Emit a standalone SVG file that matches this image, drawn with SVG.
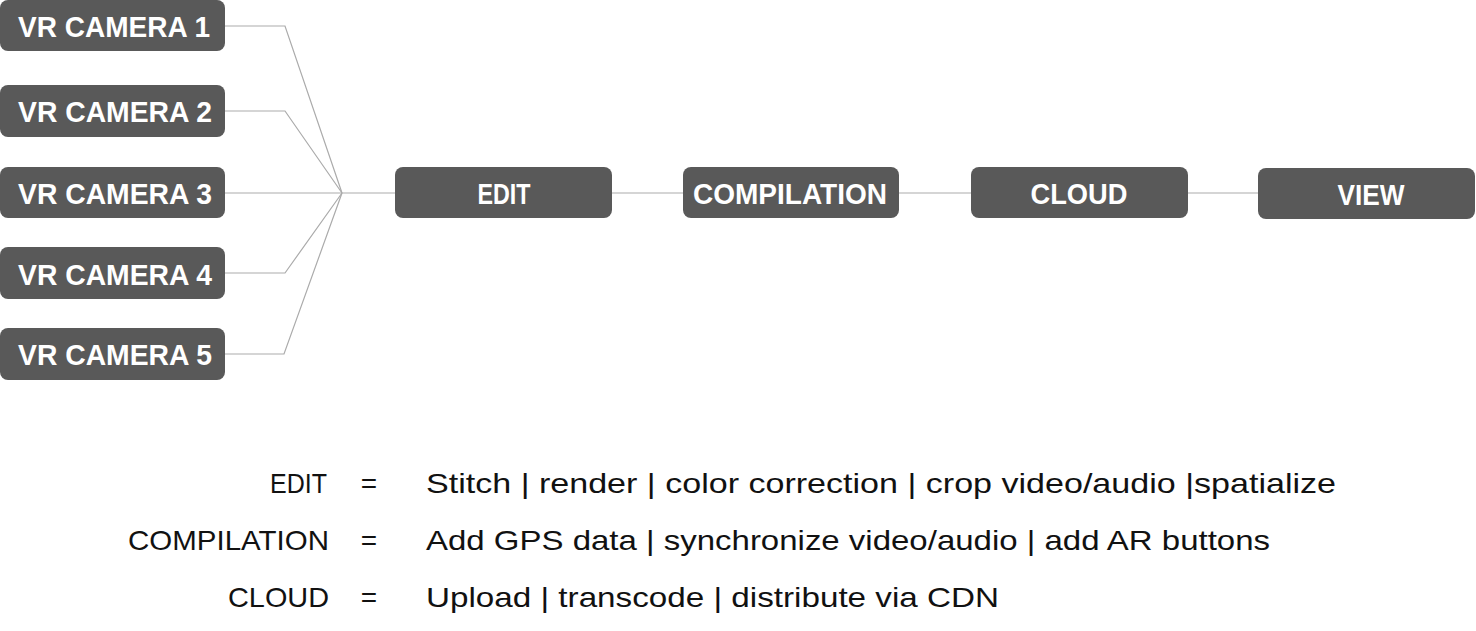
<svg xmlns="http://www.w3.org/2000/svg" width="1476" height="631" viewBox="0 0 1476 631">
<style>
.box{fill:#595959}
.bt{font-family:"Liberation Sans",Arial,sans-serif;font-weight:bold;font-size:29px;fill:#fff;text-anchor:middle}
.cn{fill:none;stroke:#ababab;stroke-width:1.2}
.lt{font-family:"Liberation Sans",Arial,sans-serif;font-size:28px;fill:#111}
</style>
<rect width="1476" height="631" fill="#fff"/>
<g id="connectors">
<polyline class="cn" points="225,26 285,26 342,193"/>
<polyline class="cn" points="225,111 285,111 342,193"/>
<polyline class="cn" points="225,193 395,193"/>
<polyline class="cn" points="225,273 285,273 342,193"/>
<polyline class="cn" points="225,354 284,354 342,193"/>
<line class="cn" x1="612" y1="193" x2="683" y2="193"/>
<line class="cn" x1="899" y1="193" x2="971" y2="193"/>
<line class="cn" x1="1188" y1="193" x2="1258" y2="193"/>
</g>
<g id="cam1"><rect class="box" x="0" y="0" width="225" height="51" rx="8"/><text class="bt" x="114" y="37" textLength="192" lengthAdjust="spacingAndGlyphs">VR CAMERA 1</text></g>
<g id="cam2"><rect class="box" x="0" y="85" width="225" height="52" rx="8"/><text class="bt" x="115" y="122" textLength="194" lengthAdjust="spacingAndGlyphs">VR CAMERA 2</text></g>
<g id="cam3"><rect class="box" x="0" y="167" width="225" height="51" rx="8"/><text class="bt" x="115" y="204" textLength="194" lengthAdjust="spacingAndGlyphs">VR CAMERA 3</text></g>
<g id="cam4"><rect class="box" x="0" y="247" width="225" height="52" rx="8"/><text class="bt" x="115" y="285" textLength="194" lengthAdjust="spacingAndGlyphs">VR CAMERA 4</text></g>
<g id="cam5"><rect class="box" x="0" y="328" width="225" height="52" rx="8"/><text class="bt" x="115" y="365" textLength="194" lengthAdjust="spacingAndGlyphs">VR CAMERA 5</text></g>
<g id="edit"><rect class="box" x="395" y="167" width="217" height="51" rx="8"/><text class="bt" x="504" y="204" textLength="53" lengthAdjust="spacingAndGlyphs">EDIT</text></g>
<g id="compilation"><rect class="box" x="683" y="167" width="216" height="51" rx="8"/><text class="bt" x="790" y="204" textLength="194" lengthAdjust="spacingAndGlyphs">COMPILATION</text></g>
<g id="cloud"><rect class="box" x="971" y="167" width="217" height="51" rx="8"/><text class="bt" x="1079" y="204" textLength="97" lengthAdjust="spacingAndGlyphs">CLOUD</text></g>
<g id="view"><rect class="box" x="1258" y="168" width="217" height="51" rx="8"/><text class="bt" x="1371" y="205" textLength="67" lengthAdjust="spacingAndGlyphs">VIEW</text></g>
<g id="legend">
<text class="lt" x="327" y="493" text-anchor="end" textLength="57" lengthAdjust="spacingAndGlyphs">EDIT</text>
<text class="lt" x="369" y="493" text-anchor="middle">=</text>
<text class="lt" x="426" y="493" textLength="910" lengthAdjust="spacingAndGlyphs">Stitch | render | color correction | crop video/audio |spatialize</text>
<text class="lt" x="329" y="550" text-anchor="end" textLength="201" lengthAdjust="spacingAndGlyphs">COMPILATION</text>
<text class="lt" x="369" y="550" text-anchor="middle">=</text>
<text class="lt" x="426" y="550" textLength="844" lengthAdjust="spacingAndGlyphs">Add GPS data | synchronize video/audio | add AR buttons</text>
<text class="lt" x="329" y="607" text-anchor="end" textLength="101" lengthAdjust="spacingAndGlyphs">CLOUD</text>
<text class="lt" x="369" y="607" text-anchor="middle">=</text>
<text class="lt" x="426" y="607" textLength="573" lengthAdjust="spacingAndGlyphs">Upload | transcode | distribute via CDN</text>
</g>
</svg>
